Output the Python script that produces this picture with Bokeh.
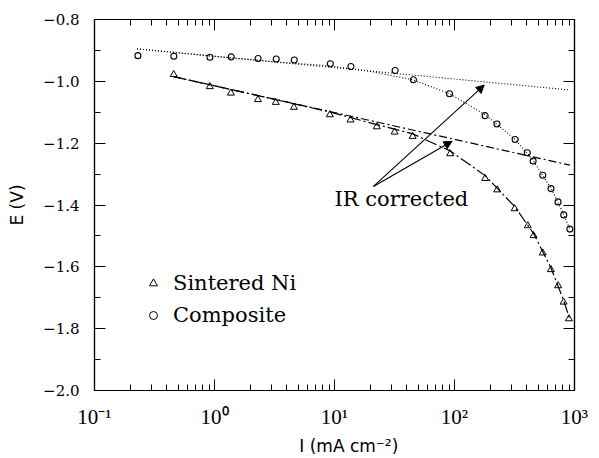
from bokeh.plotting import figure
from bokeh.models import (LogAxis, LinearAxis, Range1d, FixedTicker, CustomJSTickFormatter,
                          CustomLabelingPolicy, Label, Legend, LegendItem, Arrow, NormalHead)
from bokeh.embed import file_html
from bokeh.resources import INLINE

# ---------------- data ----------------
I_sintered = [0.457, 0.914, 1.37, 2.30, 3.24, 4.59, 9.14, 13.6, 22.5, 31.7, 44.8, 92.0,
              180, 227, 317, 408, 456, 543, 636, 731, 811, 899]
E_sintered = [-0.978, -1.017, -1.038, -1.059, -1.068, -1.084, -1.108, -1.125, -1.147, -1.164, -1.178, -1.234,
              -1.314, -1.351, -1.412, -1.467, -1.499, -1.555, -1.609, -1.661, -1.714, -1.768]

I_composite = [0.23, 0.458, 0.916, 1.38, 2.31, 3.27, 4.62, 9.23, 13.7, 32.0, 45.5, 90.9,
               180, 226, 320, 404, 452, 544, 637, 729, 814, 915]
E_composite = [-0.917, -0.919, -0.922, -0.921, -0.926, -0.928, -0.931, -0.943, -0.952, -0.965, -0.995, -1.040,
               -1.111, -1.138, -1.188, -1.231, -1.258, -1.304, -1.347, -1.390, -1.432, -1.478]

# fitted (uncorrected) curves
I_sintered_fit = [0.457, 2.30, 9.14, 22.5, 45, 92, 180, 317, 456, 636, 811, 915]
E_sintered_fit = [-0.985, -1.046, -1.099, -1.140, -1.170, -1.225, -1.305, -1.405, -1.492, -1.603, -1.708, -1.770]
I_composite_fit = [0.226, 1.0, 3.0, 9.2, 20, 45, 91, 180, 320, 450, 640, 810, 915]
E_composite_fit = [-0.895, -0.919, -0.936, -0.950, -0.968, -0.995, -1.040, -1.108, -1.188, -1.255, -1.347, -1.430, -1.478]

# IR corrected (Tafel) lines
I_sintered_ir = [0.457, 915]
E_sintered_ir = [-0.985, -1.271]
I_composite_ir = [0.226, 917]
E_composite_ir = [-0.895, -1.028]

x_ticks = [0.1, 1, 10, 100, 1000]
x_tick_labels = ["10\u207b\u00b9", "10\u2070", "10\u00b9", "10\u00b2", "10\u00b3"]
y_ticks = [-2.0, -1.8, -1.6, -1.4, -1.2, -1.0, -0.8]
y_tick_labels = ["\u22122.0", "\u22121.8", "\u22121.6", "\u22121.4", "\u22121.2", "\u22121.0", "\u22120.8"]

# ---------------- figure ----------------
W, H = 599, 458
p = figure(width=W, height=H, x_axis_type="log",
           x_range=Range1d(0.1, 1000), y_range=Range1d(-2.0, -0.8),
           output_backend="svg", toolbar_location=None,
           min_border_left=94, min_border_right=17, min_border_top=19, min_border_bottom=68)
p.background_fill_color = "white"
p.border_fill_color = "white"
p.outline_line_color = "black"
p.outline_line_width = 1.2
p.xgrid.visible = False
p.ygrid.visible = False

x_minor = [m * d for d in [0.1, 1, 10, 100] for m in range(2, 10)]
y_minor = [-1.9, -1.7, -1.5, -1.3, -1.1, -0.9]

xfmt = CustomJSTickFormatter(args=dict(vals=x_ticks, labs=x_tick_labels), code="""
let best = 0, d = 1e9;
for (let i = 0; i < vals.length; i++) {
  const dd = Math.abs(Math.log10(tick) - Math.log10(vals[i]));
  if (dd < d) { d = dd; best = i; }
}
return labs[best];
""")
yfmt = CustomJSTickFormatter(args=dict(vals=y_ticks, labs=y_tick_labels), code="""
let best = 0, d = 1e9;
for (let i = 0; i < vals.length; i++) {
  const dd = Math.abs(tick - vals[i]);
  if (dd < d) { d = dd; best = i; }
}
return labs[best];
""")
hide_all = CustomLabelingPolicy(code="""
for (const i of indices) { indices.unset(i) }
return indices
""")

def style_axis(ax, ticks, minor, fmt, show_labels):
    ax.ticker = FixedTicker(ticks=ticks, minor_ticks=minor)
    ax.formatter = fmt
    ax.axis_line_color = "black"
    ax.axis_line_width = 1.2
    ax.major_tick_in = 11
    ax.major_tick_out = 0
    ax.minor_tick_in = 6
    ax.minor_tick_out = 0
    ax.major_tick_line_color = "black"
    ax.minor_tick_line_color = "black"
    if not show_labels:
        ax.major_label_policy = hide_all
        ax.major_label_standoff = 0

xax = p.xaxis[0]
style_axis(xax, x_ticks, x_minor, xfmt, True)
xax.major_label_text_font = "Liberation Serif"
xax.major_label_text_font_size = "21px"
xax.major_label_text_color = "black"
xax.major_label_standoff = 14
xax.axis_label = "\u2003\u2003I  (mA cm\u207b\u00b2)"
xax.axis_label_text_font = "DejaVu Sans"
xax.axis_label_text_font_style = "normal"
xax.axis_label_text_font_size = "17px"
xax.axis_label_text_color = "black"
xax.axis_label_standoff = 4

yax = p.yaxis[0]
style_axis(yax, y_ticks, y_minor, yfmt, True)
yax.major_label_text_font = "DejaVu Serif"
yax.major_label_text_font_size = "15px"
yax.major_label_text_color = "black"
yax.major_label_standoff = 15
yax.axis_label = "E (V)"
yax.axis_label_text_font = "DejaVu Sans"
yax.axis_label_text_font_style = "normal"
yax.axis_label_text_font_size = "17px"
yax.axis_label_text_color = "black"
yax.axis_label_standoff = 13

top = LogAxis()
style_axis(top, x_ticks, x_minor, xfmt, False)
p.add_layout(top, "above")
right = LinearAxis()
style_axis(right, y_ticks, y_minor, yfmt, False)
p.add_layout(right, "right")

# ---------------- lines ----------------
p.line(I_composite_ir, E_composite_ir, line_color="black", line_width=1.1, line_dash="1 2")
p.line(I_composite_fit, E_composite_fit, line_color="black", line_width=1.1, line_dash="1 2")
p.line(I_sintered_ir, E_sintered_ir, line_color="black", line_width=1.2, line_dash="8 3 2 3")
p.line(I_sintered_fit, E_sintered_fit, line_color="black", line_width=1.2, line_dash="12 3 2 3")

p.scatter(I_sintered, E_sintered, marker="triangle", size=7, fill_color=None,
          line_color="black", line_width=1)
p.scatter(I_composite, E_composite, marker="circle", size=6, fill_color=None,
          line_color="black", line_width=1.1)

# legend-only renderers (one point far outside the view, smaller markers as in the key)
leg_s = p.scatter(x=[1e-6], y=[0.0], marker="triangle", size=6, fill_color=None, line_color="black")
leg_c = p.scatter(x=[1e-6], y=[0.0], marker="circle", size=5, fill_color=None, line_color="black")
legend = Legend(items=[LegendItem(label="Sintered Ni", renderers=[leg_s]),
                       LegendItem(label="Composite", renderers=[leg_c])],
                location=(39, 52), orientation="vertical",
                background_fill_alpha=0, border_line_alpha=0,
                label_text_font="DejaVu Serif", label_text_font_size="21px",
                label_text_color="black", label_standoff=10,
                glyph_width=20, glyph_height=26, label_height=26, spacing=6, padding=10, margin=0)
p.add_layout(legend, "center")

# ---------------- annotations ----------------
arrow_start = (21.1, -1.340)
for xe, ye in [(177, -1.012), (95.5, -1.194)]:
    p.add_layout(Arrow(end=NormalHead(size=8, fill_color="black", line_color="black"),
                       x_start=arrow_start[0], y_start=arrow_start[1], x_end=xe, y_end=ye,
                       line_color="black", line_width=1.1))

p.add_layout(Label(x=10.0, y=-1.379, text="IR corrected", text_font="DejaVu Serif",
                   text_font_size="21px", text_align="left", text_baseline="middle",
                   text_color="black"))

open("out.html", "w").write(file_html(p, INLINE))
